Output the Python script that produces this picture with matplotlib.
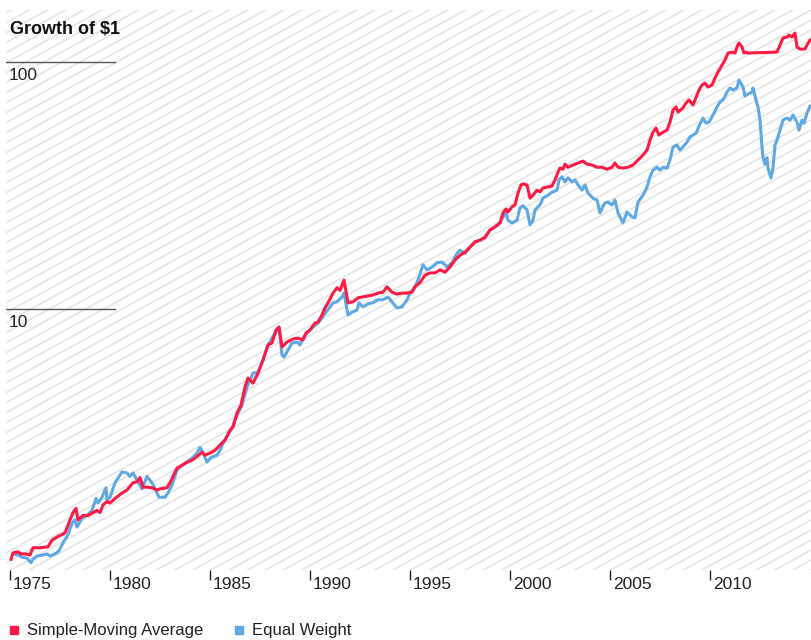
import numpy as np
import matplotlib
matplotlib.use("Agg")
import matplotlib.pyplot as plt
from matplotlib.lines import Line2D
from matplotlib.transforms import ScaledTranslation

plt.rcParams["font.family"] = ["Liberation Sans", "DejaVu Sans"]

# Simple-Moving Average strategy, growth of $1
sma_years = [1975.05, 1975.15, 1975.40, 1975.55, 1975.75, 1976.00, 1976.15, 1976.50, 1976.90,
             1977.10, 1977.40, 1977.75, 1978.00, 1978.15, 1978.30, 1978.40, 1978.65, 1978.90,
             1979.15, 1979.35, 1979.50, 1979.65, 1979.85, 1980.00, 1980.25, 1980.60, 1980.85,
             1981.15, 1981.35, 1981.50, 1981.65, 1981.85, 1982.10, 1982.35, 1982.50, 1982.85,
             1983.00, 1983.35, 1983.60, 1983.85, 1984.10, 1984.35, 1984.60, 1984.75, 1985.00,
             1985.25, 1985.50, 1985.75, 1986.00, 1986.15, 1986.35, 1986.55, 1986.75, 1986.90,
             1987.15, 1987.40, 1987.65, 1987.90, 1988.10, 1988.30, 1988.45, 1988.60, 1988.70,
             1988.85, 1989.15, 1989.40, 1989.65, 1989.80, 1990.00, 1990.25, 1990.40, 1990.60,
             1990.75, 1990.90, 1991.05, 1991.15, 1991.35, 1991.50, 1991.70, 1991.90, 1992.15,
             1992.40, 1992.65, 1992.90, 1993.15, 1993.40, 1993.65, 1993.85, 1994.10, 1994.35,
             1994.60, 1994.85, 1995.10, 1995.25, 1995.50, 1995.75, 1996.00, 1996.25, 1996.50,
             1996.75, 1997.00, 1997.25, 1997.50, 1997.75, 1998.00, 1998.25, 1998.50, 1998.75,
             1999.00, 1999.25, 1999.50, 1999.65, 1999.80, 1999.90, 2000.10, 2000.25, 2000.40,
             2000.55, 2000.65, 2000.85, 2001.00, 2001.15, 2001.35, 2001.50, 2001.65, 2001.90,
             2002.10, 2002.25, 2002.40, 2002.50, 2002.65, 2002.75, 2002.90, 2003.15, 2003.40,
             2003.65, 2003.85, 2004.10, 2004.35, 2004.60, 2004.85, 2005.10, 2005.25, 2005.40,
             2005.65, 2005.90, 2006.15, 2006.40, 2006.65, 2006.85, 2007.00, 2007.15, 2007.30,
             2007.45, 2007.65, 2007.85, 2008.00, 2008.15, 2008.30, 2008.40, 2008.65, 2008.80,
             2008.95, 2009.15, 2009.35, 2009.45, 2009.60, 2009.75, 2009.90, 2010.10, 2010.25,
             2010.40, 2010.60, 2010.75, 2010.90, 2011.10, 2011.25, 2011.35, 2011.45, 2011.60,
             2011.70, 2011.80, 2011.90, 2013.35, 2013.50, 2013.65, 2013.85, 2013.95, 2014.10,
             2014.25, 2014.35, 2014.50, 2014.75, 2014.85, 2015.00]
sma_values = [0.97, 1.03, 1.04, 1.02, 1.02, 1.01, 1.08, 1.08, 1.09,
              1.16, 1.20, 1.24, 1.40, 1.50, 1.56, 1.40, 1.46, 1.46,
              1.50, 1.53, 1.50, 1.61, 1.66, 1.64, 1.71, 1.80, 1.85,
              1.98, 2.00, 2.08, 1.90, 1.90, 1.89, 1.85, 1.87, 1.89,
              1.98, 2.27, 2.33, 2.40, 2.44, 2.53, 2.63, 2.56, 2.61,
              2.68, 2.81, 2.95, 3.23, 3.33, 3.79, 4.08, 4.83, 5.26,
              5.01, 5.50, 6.22, 7.15, 7.29, 8.22, 8.45, 7.02, 7.15,
              7.35, 7.56, 7.63, 7.49, 8.00, 8.22, 8.78, 8.86, 9.46,
              10.1, 10.6, 11.2, 11.6, 12.2, 11.9, 13.1, 10.6, 10.7,
              11.1, 11.2, 11.3, 11.4, 11.6, 11.7, 12.3, 11.7, 11.5,
              11.6, 11.6, 11.7, 12.3, 12.8, 13.7, 14.0, 14.0, 14.4,
              14.1, 14.8, 15.8, 16.5, 17.0, 17.8, 18.7, 19.0, 19.5,
              20.9, 21.5, 22.3, 24.5, 25.4, 24.7, 25.9, 26.4, 29.5,
              31.8, 32.1, 31.8, 28.1, 28.9, 30.3, 29.8, 30.9, 31.2,
              31.5, 33.3, 35.8, 37.2, 36.8, 38.6, 37.5, 38.3, 39.0,
              39.7, 38.6, 38.3, 37.5, 37.5, 36.8, 37.5, 39.0, 37.5,
              37.2, 37.5, 38.3, 40.1, 42.0, 44.0, 48.3, 52.0, 54.0,
              50.6, 52.0, 53.0, 57.1, 63.9, 65.8, 62.7, 65.2, 68.3,
              70.2, 67.0, 73.5, 77.0, 80.7, 82.2, 79.2, 80.7, 86.1,
              91.1, 97.2, 101.9, 108.7, 109.7, 108.7, 115.0, 119.4, 115.0,
              108.7, 109.7, 108.7, 109.7, 117.2, 125.0, 126.2, 128.6, 126.2,
              131.0, 115.0, 112.8, 112.8, 117.2, 122.8]

# Equal Weight portfolio, growth of $1
ew_years = [1975.15, 1975.40, 1975.60, 1975.85, 1976.05, 1976.15, 1976.35, 1976.65, 1976.85,
            1977.00, 1977.25, 1977.45, 1977.65, 1977.90, 1978.10, 1978.25, 1978.35, 1978.60,
            1978.85, 1979.10, 1979.30, 1979.40, 1979.60, 1979.80, 1979.85, 1980.00, 1980.25,
            1980.60, 1980.85, 1981.00, 1981.15, 1981.35, 1981.60, 1981.85, 1982.10, 1982.25,
            1982.45, 1982.75, 1982.90, 1983.10, 1983.35, 1983.60, 1983.85, 1984.10, 1984.35,
            1984.50, 1984.65, 1984.85, 1985.05, 1985.35, 1985.50, 1985.65, 1985.90, 1986.10,
            1986.35, 1986.60, 1986.85, 1987.15, 1987.40, 1987.65, 1987.90, 1988.35, 1988.45,
            1988.60, 1988.70, 1988.85, 1989.10, 1989.35, 1989.50, 1989.65, 1989.90, 1990.15,
            1990.40, 1990.60, 1990.80, 1991.00, 1991.15, 1991.35, 1991.60, 1991.70, 1991.90,
            1992.10, 1992.35, 1992.45, 1992.65, 1992.90, 1993.15, 1993.40, 1993.65, 1993.90,
            1994.10, 1994.35, 1994.60, 1994.85, 1995.00, 1995.25, 1995.40, 1995.65, 1995.85,
            1996.10, 1996.35, 1996.60, 1996.85, 1997.10, 1997.35, 1997.50, 1997.75, 1998.00,
            1998.25, 1998.50, 1998.75, 1999.00, 1999.25, 1999.50, 1999.65, 1999.80, 1999.90,
            2000.10, 2000.35, 2000.50, 2000.65, 2000.85, 2001.00, 2001.15, 2001.25, 2001.50,
            2001.65, 2001.90, 2002.10, 2002.35, 2002.45, 2002.60, 2002.75, 2002.90, 2003.10,
            2003.25, 2003.40, 2003.60, 2003.75, 2003.90, 2004.15, 2004.35, 2004.50, 2004.65,
            2004.75, 2004.90, 2005.10, 2005.25, 2005.40, 2005.65, 2005.85, 2006.10, 2006.25,
            2006.40, 2006.65, 2006.85, 2007.00, 2007.15, 2007.35, 2007.50, 2007.65, 2007.85,
            2008.00, 2008.15, 2008.35, 2008.50, 2008.65, 2008.85, 2009.00, 2009.15, 2009.30,
            2009.45, 2009.65, 2009.80, 2009.95, 2010.15, 2010.35, 2010.50, 2010.65, 2010.85,
            2011.00, 2011.15, 2011.35, 2011.45, 2011.65, 2011.75, 2011.90, 2012.10, 2012.15,
            2012.30, 2012.40, 2012.50, 2012.60, 2012.65, 2012.75, 2012.85, 2012.90, 2013.05,
            2013.15, 2013.25, 2013.35, 2013.50, 2013.65, 2013.85, 2014.00, 2014.15, 2014.35,
            2014.45, 2014.60, 2014.70, 2014.85, 2015.00]
ew_values = [1.02, 1.01, 0.99, 0.98, 0.94, 0.97, 1.00, 1.01, 1.02,
             1.00, 1.02, 1.05, 1.13, 1.22, 1.36, 1.40, 1.31, 1.42,
             1.46, 1.53, 1.71, 1.64, 1.73, 1.89, 1.68, 1.73, 1.98,
             2.19, 2.17, 2.10, 2.17, 2.03, 1.87, 2.10, 1.98, 1.87,
             1.73, 1.73, 1.80, 1.94, 2.23, 2.33, 2.40, 2.49, 2.61,
             2.75, 2.63, 2.40, 2.51, 2.56, 2.68, 2.86, 3.09, 3.29,
             3.72, 4.08, 4.83, 5.50, 5.55, 6.22, 7.15, 8.22, 8.45,
             6.51, 6.39, 6.70, 7.29, 7.35, 7.15, 7.63, 8.06, 8.45,
             8.78, 9.20, 9.72, 10.2, 10.6, 10.7, 11.2, 11.6, 9.46,
             9.72, 9.91, 10.6, 10.2, 10.5, 10.6, 10.9, 10.9, 11.2,
             10.7, 10.1, 10.2, 10.9, 11.6, 12.3, 13.1, 15.1, 14.4,
             14.8, 15.4, 15.5, 14.8, 15.4, 16.8, 17.3, 16.8, 17.8,
             18.7, 19.0, 19.5, 20.9, 21.5, 22.3, 23.6, 24.5, 22.9,
             22.3, 22.9, 25.7, 26.2, 25.2, 21.9, 22.9, 25.2, 26.4,
             28.1, 28.9, 29.7, 30.3, 33.3, 34.3, 32.7, 34.0, 32.7,
             33.3, 31.8, 30.3, 31.8, 29.5, 28.1, 27.6, 24.5, 26.0,
             26.9, 27.1, 26.4, 27.6, 24.5, 22.3, 24.7, 23.6, 23.4,
             27.1, 28.9, 31.2, 34.3, 36.5, 37.5, 36.5, 37.5, 37.2,
             40.1, 45.2, 46.1, 44.0, 45.3, 47.4, 49.7, 50.6, 51.5,
             55.0, 59.3, 56.6, 57.1, 61.0, 65.8, 68.9, 70.2, 75.6,
             78.5, 77.0, 78.5, 84.5, 79.2, 72.8, 74.2, 75.6, 78.5,
             70.2, 65.8, 58.2, 45.2, 41.0, 38.6, 41.0, 37.2, 33.9,
             37.2, 46.1, 48.3, 53.0, 58.2, 59.3, 58.2, 61.0, 57.1,
             53.0, 58.2, 56.6, 62.1, 66.3]

tick_years = [1975, 1980, 1985, 1990, 1995, 2000, 2005, 2010]
grid_levels = [10, 100]

red = "#FF1A44"
blue = "#5FA8E4"

W, H = 811, 640
fig = plt.figure(figsize=(W / 100, H / 100), dpi=100)
rect = [6 / W, 70 / H, 805 / W, 560 / H]

# diagonal hatching behind the plot
bg = fig.add_axes(rect, zorder=0)
bg.set_xlim(0, 805)
bg.set_ylim(0, 560)
bg.axis("off")
slope = 0.55
for c in np.arange(-slope * 805, 560, 10):
    bg.plot([0, 805], [c, c + slope * 805], color="#e4e4e4", lw=1.1)

ax = fig.add_axes(rect, zorder=1)
ax.set_facecolor("none")
ax.set_yscale("log")
ax.set_xlim(1974.8, 2015.05)
ax.set_ylim(0.878, 162.4)
for s in ax.spines.values():
    s.set_visible(False)

ax.plot(ew_years, ew_values, color=blue, lw=2.2, solid_joinstyle="round")
ax.plot(sma_years, sma_values, color=red, lw=2.2, solid_joinstyle="round")

# short gridlines with labels under them
for lv in grid_levels:
    ax.axhline(lv, xmin=0, xmax=109 / 805, color="#555555", lw=1)
    ax.annotate(str(lv), (1974.95, lv), xytext=(0, -4), textcoords="offset points",
                ha="left", va="top", fontsize=12.5, color="#222222")

ax.set_yticks([])
ax.minorticks_off()
ax.set_xticks(tick_years)
ax.set_xticklabels([str(y) for y in tick_years])
ax.tick_params(axis="x", length=7.5, width=1, color="#222222", pad=-2.5,
               labelsize=12.5, labelcolor="#222222")
shift = ScaledTranslation(3 / 100, 0, fig.dpi_scale_trans)
for lab in ax.get_xticklabels():
    lab.set_ha("left")
    lab.set_transform(lab.get_transform() + shift)

fig.text(10 / W, 1 - 30 / H, r"Growth of \$1", fontsize=13, fontweight="bold",
         ha="left", va="center", color="#111111")

# legend
fig.add_artist(Line2D([14 / W], [10 / H], marker="s", markersize=6, color=red, lw=0))
fig.text(27 / W, 10 / H, "Simple-Moving Average", fontsize=12, va="center", color="#222222")
fig.add_artist(Line2D([239 / W], [10 / H], marker="s", markersize=6, color=blue, lw=0))
fig.text(252 / W, 10 / H, "Equal Weight", fontsize=12, va="center", color="#222222")

fig.savefig("out.png", dpi=100)
